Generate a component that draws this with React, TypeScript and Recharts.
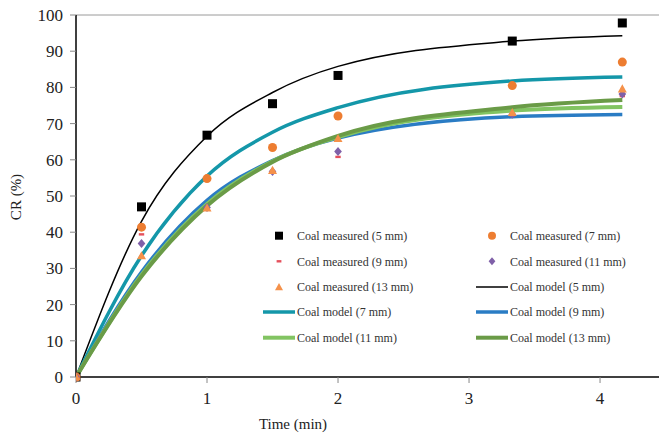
import { ComposedChart, Line, Scatter, XAxis, YAxis, ReferenceLine, Legend } from "recharts";

// time points (min)
const time = [0, 0.5, 1, 1.5, 2, 3.33, 4.17];

// measured CR (%)
const measured5 = [0, 47, 66.8, 75.5, 83.3, 92.8, 97.8];
const measured7 = [0, 41.4, 54.8, 63.4, 72.1, 80.5, 87];
const measured9 = [0, 39.4, 46.5, 56.6, 60.8, 72.3, 77.6];
const measured11 = [0, 36.9, 46.8, 56.8, 62.3, 72.6, 78.2];
const measured13 = [0, 33.5, 46.7, 57.1, 65.9, 73.1, 79.6];

// model CR (%)
const model5 = [0, 43, 66.5, 78.6, 85.8, 92.8, 94.3];
const model7 = [0, 33.5, 55.5, 67.6, 74.4, 81.8, 82.9];
const model9 = [0, 29, 48.8, 59.8, 66, 71.9, 72.5];
const model11 = [0, 28.2, 47.8, 59.6, 66.3, 73.6, 74.6];
const model13 = [0, 27.8, 47.3, 59.4, 66.6, 74.5, 76.5];

const xTicks = [0, 1, 2, 3, 4];
const yTicks = [0, 10, 20, 30, 40, 50, 60, 70, 80, 90, 100];

type Kind = "square" | "circle" | "dash" | "diamond" | "triangle" | "line";

interface Series {
  key: string;
  name: string;
  kind: Kind;
  color: string;
  width?: number;
}

const measuredSeries: Series[] = [
  { key: "m5", name: "Coal measured (5 mm)", kind: "square", color: "#000000" },
  { key: "m7", name: "Coal measured (7 mm)", kind: "circle", color: "#ED7D31" },
  { key: "m9", name: "Coal measured (9 mm)", kind: "dash", color: "#E5505C" },
  { key: "m11", name: "Coal measured (11 mm)", kind: "diamond", color: "#7F60A8" },
  { key: "m13", name: "Coal measured (13 mm)", kind: "triangle", color: "#F5914A" },
];

const modelSeries: Series[] = [
  { key: "f5", name: "Coal model (5 mm)", kind: "line", color: "#000000", width: 1.5 },
  { key: "f7", name: "Coal model (7 mm)", kind: "line", color: "#1497A9", width: 3.5 },
  { key: "f9", name: "Coal model (9 mm)", kind: "line", color: "#2A7CC4", width: 3.5 },
  { key: "f11", name: "Coal model (11 mm)", kind: "line", color: "#82C462", width: 4 },
  { key: "f13", name: "Coal model (13 mm)", kind: "line", color: "#6A9B47", width: 4 },
];

const data = time.map((t, i) => ({
  t,
  m5: measured5[i],
  m7: measured7[i],
  m9: measured9[i],
  m11: measured11[i],
  m13: measured13[i],
  f5: model5[i],
  f7: model7[i],
  f9: model9[i],
  f11: model11[i],
  f13: model13[i],
}));

const FONT = '"Liberation Serif", "Times New Roman", serif';

function Marker({ kind, color, cx, cy, s }: { kind: Kind; color: string; cx: number; cy: number; s: number }) {
  const h = s / 2;
  if (kind === "square") return <rect x={cx - h} y={cy - h} width={s} height={s} fill={color} />;
  if (kind === "circle") return <circle cx={cx} cy={cy} r={h} fill={color} />;
  if (kind === "dash") return <rect x={cx - h * 0.6} y={cy - 1.2} width={s * 0.6} height={2.4} fill={color} />;
  if (kind === "diamond")
    return <polygon points={`${cx},${cy - h} ${cx + h * 0.85},${cy} ${cx},${cy + h} ${cx - h * 0.85},${cy}`} fill={color} />;
  if (kind === "triangle")
    return <polygon points={`${cx},${cy - h} ${cx + h},${cy + h * 0.8} ${cx - h},${cy + h * 0.8}`} fill={color} />;
  return null;
}

const legendItems = [...measuredSeries, ...modelSeries];

function ChartLegend() {
  const rowY = [13.7, 39.3, 65, 90, 115.7];
  const colX = [0, 213];
  return (
    <svg width={420} height={130}>
      {legendItems.map((s, i) => {
        const y = rowY[Math.floor(i / 2)];
        const x0 = colX[i % 2];
        return (
          <g key={s.key}>
            {s.kind === "line" ? (
              <line x1={x0 + 8} x2={x0 + 40} y1={y} y2={y} stroke={s.color} strokeWidth={s.width} />
            ) : (
              <Marker kind={s.kind} color={s.color} cx={x0 + 24} cy={y} s={8} />
            )}
            <text x={x0 + 42} y={y} dy="0.35em" fontFamily={FONT} fontSize={12} fill="#333">
              {s.name}
            </text>
          </g>
        );
      })}
    </svg>
  );
}

export default function App() {
  return (
    <div style={{ position: "absolute", left: 0, top: 0, background: "#fff" }}>
      <ComposedChart width={659} height={436} data={data} margin={{ top: 15, right: 0, bottom: 0, left: 0 }}>
        <XAxis
          dataKey="t"
          type="number"
          domain={[0, 4.45]}
          ticks={xTicks}
          allowDataOverflow
          height={59}
          axisLine={{ stroke: "#000", strokeWidth: 1.5 }}
          tickLine={{ stroke: "#888" }}
          tickSize={6}
          tickMargin={9}
          tick={{ fontFamily: FONT, fontSize: 17, fill: "#222" }}
          label={{
            content: () => (
              <text x={293} y={429} textAnchor="middle" fontFamily={FONT} fontSize={15} fill="#222">
                Time (min)
              </text>
            ),
          }}
        />
        <YAxis
          type="number"
          domain={[0, 100]}
          ticks={yTicks}
          width={76}
          axisLine={{ stroke: "#000", strokeWidth: 1.5 }}
          tickLine={{ stroke: "#888" }}
          tickSize={6}
          tickMargin={7}
          tick={{ fontFamily: FONT, fontSize: 17, fill: "#222" }}
          label={{
            content: () => (
              <text
                x={21}
                y={197}
                transform="rotate(-90 21 197)"
                textAnchor="middle"
                fontFamily={FONT}
                fontSize={15}
                fill="#222"
              >
                CR (%)
              </text>
            ),
          }}
        />
        <ReferenceLine y={100} stroke="#9a9a9a" strokeWidth={1} />
        {measuredSeries.map((s) => (
          <Scatter
            key={s.key}
            dataKey={s.key}
            name={s.name}
            fill={s.color}
            isAnimationActive={false}
            shape={(p: any) => <Marker kind={s.kind} color={s.color} cx={p.cx} cy={p.cy} s={s.kind === "square" ? 9 : 9} />}
          />
        ))}
        {modelSeries.map((s) => (
          <Line
            key={s.key}
            dataKey={s.key}
            name={s.name}
            type="monotone"
            stroke={s.color}
            strokeWidth={s.width}
            dot={false}
            activeDot={false}
            isAnimationActive={false}
          />
        ))}
        <Legend
          verticalAlign="middle"
          align="center"
          layout="horizontal"
          wrapperStyle={{ left: 255, top: 222, width: 420, height: 130 }}
          content={() => <ChartLegend />}
        />
      </ComposedChart>
    </div>
  );
}
